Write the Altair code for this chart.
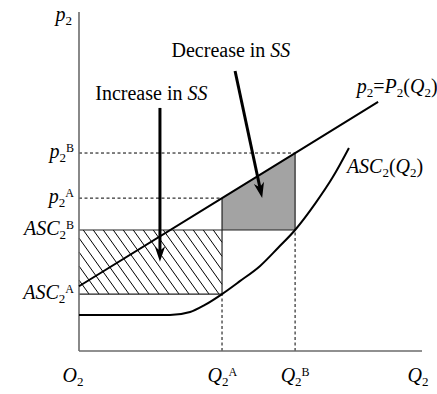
import math

import altair as alt
import pandas as pd

# ---- economic quantities (plot units) ----
Q2A, Q2B = 4.17, 6.30
p2A, p2B = 4.51, 5.84
ASC2A, ASC2B = 1.68, 3.57
Q_MAX, P_MAX = 10.0, 10.0

# inverse demand p2 = P2(Q2)
price_q = [0.0, Q2A, Q2B, 8.72]
price_p = [1.91, p2A, p2B, 7.35]

# average social cost curve ASC2(Q2)
asc_q = [0.0, 2.65, 3.24, 3.67, Q2A, 4.69, 5.28, 5.80, Q2B, 6.88, 7.40, 7.87]
asc_c = [1.06, 1.06, 1.15, 1.36, ASC2A, 2.06, 2.51, 3.04, ASC2B, 4.34, 5.13, 5.99]

# annotation arrows: start and tip
arrow_x0 = [2.36, 4.55]
arrow_y0 = [7.17, 8.26]
arrow_x1 = [2.36, 5.34]
arrow_y1 = [2.63, 4.51]

note_words = ["Increase in ", "Decrease in "]
note_x = [2.11, 4.43]
note_y = [7.40, 8.67]

price_label_xy = (8.10, 7.61)
asc_label_xy = (7.81, 5.25)

# ---- layout ----
W, H = 343, 339
PAD = {"left": 79, "top": 12, "right": 15, "bottom": 43}
PX, PY = W / Q_MAX, H / P_MAX
FONT = "Liberation Serif"

BASE, SUB, SUP = 20, 13, 12
SUB_DROP, SUP_RISE = 4, 6

ROMAN = {" ": 250, "a": 444, "c": 444, "D": 722, "e": 444, "i": 278, "I": 333,
         "n": 500, "r": 333, "s": 389, "2": 500, "=": 564, "(": 333, ")": 333,
         "A": 722, "B": 667}
ITALIC = {"p": 500, "P": 611, "Q": 722, "A": 611, "S": 500, "C": 667, "O": 722}


def run_width(text, italic, size):
    table = ITALIC if italic else ROMAN
    return sum(table.get(ch, 500) for ch in text) / 1000 * size


def rich(runs, x, y, anchor="start", dx=0.0, dy=0.0):
    """Lay out a label made of italic/roman/sub/sup runs, one row per run."""
    pieces, cursor = [], 0.0
    for text, role in runs:
        italic = role == "it"
        size = {"it": BASE, "rm": BASE, "sub": SUB, "sup": SUP}[role]
        shift = {"sub": SUB_DROP, "sup": -SUP_RISE}.get(role, 0)
        w = run_width(text, italic and size == BASE, size)
        pieces.append((text, italic, size, cursor, shift, w))
        cursor += w
    if anchor == "middle":
        off = -cursor / 2
    elif anchor == "end":
        off = -cursor
    elif anchor == "base":
        off = -pieces[0][5]
    else:
        off = 0.0
    rows = []
    for text, italic, size, cur, shift, _ in pieces:
        rows.append({
            "text": text,
            "italic": italic,
            "size": size,
            "x": x + (dx + off + cur) / PX,
            "y": y - (dy + shift) / PY,
        })
    return rows


labels = []
labels += rich([("p", "it"), ("2", "sub")], 0.0, P_MAX, anchor="end", dx=-7, dy=9)
for runs, level in [
    ([("p", "it"), ("2", "sub"), ("B", "sup")], p2B),
    ([("p", "it"), ("2", "sub"), ("A", "sup")], p2A),
    ([("ASC", "it"), ("2", "sub"), ("B", "sup")], ASC2B),
    ([("ASC", "it"), ("2", "sub"), ("A", "sup")], ASC2A),
]:
    labels += rich(runs, 0.0, level, anchor="end", dx=-5, dy=5)
for runs, pos, shift in [
    ([("O", "it"), ("2", "sub")], 0.0, -2),
    ([("Q", "it"), ("2", "sub"), ("A", "sup")], Q2A, 0),
    ([("Q", "it"), ("2", "sub"), ("B", "sup")], Q2B, 0),
    ([("Q", "it"), ("2", "sub")], Q_MAX, 0),
]:
    labels += rich(runs, pos, 0.0, anchor="base", dx=shift, dy=31)
labels += rich([("p", "it"), ("2", "sub"), ("=", "rm"), ("P", "it"), ("2", "sub"),
                ("(", "rm"), ("Q", "it"), ("2", "sub"), (")", "rm")], *price_label_xy)
labels += rich([("ASC", "it"), ("2", "sub"), ("(", "rm"), ("Q", "it"), ("2", "sub"),
                (")", "rm")], *asc_label_xy)
for words, nx, ny in zip(note_words, note_x, note_y):
    labels += rich([(words, "rm"), ("SS", "it")], nx, ny, anchor="middle")
label_df = pd.DataFrame(labels)

# ---- hatch lines for the lower rectangle (0..Q2A, ASC2A..ASC2B) ----
K, STEP = 1.4, 10.0
x_lo, x_hi = 0.0, Q2A * PX
y_lo, y_hi = ASC2A * PY, ASC2B * PY
hatch = []
c = y_lo
while c < y_hi + K * x_hi + K * STEP:
    xa = max(x_lo, (c - y_hi) / K)
    xb = min(x_hi, (c - y_lo) / K)
    if xb > xa:
        hatch.append({"x": xa / PX, "y": (c - K * xa) / PY,
                      "x2": xb / PX, "y2": (c - K * xb) / PY})
    c += K * STEP
hatch_df = pd.DataFrame(hatch)

# ---- guide segments ----
solid_df = pd.DataFrame([
    {"x": 0.0, "y": ASC2B, "x2": Q2B, "y2": ASC2B},
    {"x": 0.0, "y": ASC2A, "x2": Q2A, "y2": ASC2A},
    {"x": Q2A, "y": ASC2A, "x2": Q2A, "y2": p2A},
    {"x": Q2B, "y": ASC2B, "x2": Q2B, "y2": p2B},
])
dashed_df = pd.DataFrame([
    {"x": 0.0, "y": p2B, "x2": Q2B, "y2": p2B},
    {"x": 0.0, "y": p2A, "x2": Q2A, "y2": p2A},
    {"x": Q2A, "y": 0.0, "x2": Q2A, "y2": ASC2A},
    {"x": Q2B, "y": 0.0, "x2": Q2B, "y2": ASC2B},
])
axes_df = pd.DataFrame([
    {"x": 0.0, "y": 0.0, "x2": Q_MAX, "y2": 0.0},
    {"x": 0.0, "y": 0.0, "x2": 0.0, "y2": P_MAX},
])

# ---- arrows ----
HEAD_R = 8.0
shafts, heads = [], []
for x0, y0, x1, y1 in zip(arrow_x0, arrow_y0, arrow_x1, arrow_y1):
    sx, sy = (x1 - x0) * PX, -(y1 - y0) * PY
    n = math.hypot(sx, sy)
    ux, uy = sx / n, sy / n
    cx, cy = x1 - HEAD_R * ux / PX, y1 + HEAD_R * uy / PY
    shafts.append({"x": x0, "y": y0, "x2": cx, "y2": cy})
    heads.append({"x": cx, "y": cy,
                  "angle": math.degrees(math.atan2(-ux, uy)) % 360})
shaft_df = pd.DataFrame(shafts)
head_df = pd.DataFrame(heads)

gray_df = pd.DataFrame({"q": [Q2A, Q2B], "top": [p2A, p2B], "bottom": [ASC2B, ASC2B]})
price_df = pd.DataFrame({"q": price_q, "p": price_p})
asc_df = pd.DataFrame({"q": asc_q, "c": asc_c})

xs = alt.Scale(domain=[0, Q_MAX], nice=False, zero=False)
ys = alt.Scale(domain=[0, P_MAX], nice=False, zero=False)


def X(f):
    return alt.X(f, type="quantitative", scale=xs, axis=None)


def Y(f):
    return alt.Y(f, type="quantitative", scale=ys, axis=None)


def segs(df, color, width, dash=None):
    kw = dict(color=color, strokeWidth=width)
    if dash:
        kw["strokeDash"] = dash
    return alt.Chart(df).mark_rule(**kw).encode(
        x=X("x"), y=Y("y"), x2="x2:Q", y2="y2:Q")


gray = alt.Chart(gray_df).mark_area(color="#a3a3a3", opacity=1).encode(
    x=X("q"), y=Y("top"), y2="bottom:Q")
hatch_layer = segs(hatch_df, "black", 1)
solid_layer = segs(solid_df, "#222", 1.2)
dashed_layer = segs(dashed_df, "black", 1, [3, 2.5])
axes_layer = segs(axes_df, "#6b6b6b", 1.6)
asc_line = alt.Chart(asc_df).mark_line(color="black", strokeWidth=2,
                                       interpolate="monotone").encode(
    x=X("q"), y=Y("c"))
price_line = alt.Chart(price_df).mark_line(color="black", strokeWidth=2).encode(
    x=X("q"), y=Y("p"))
shaft_layer = segs(shaft_df, "black", 3)
head_layer = alt.Chart(head_df).mark_point(
    shape="M0,1 L-0.65,-0.95 L0,-0.4 L0.65,-0.95 Z",
    filled=True, color="black", opacity=1, size=4 * HEAD_R ** 2,
).encode(x=X("x"), y=Y("y"), angle=alt.Angle("angle:Q", scale=None))


def text_layer(italic):
    return alt.Chart(label_df).transform_filter(
        alt.datum.italic == italic
    ).mark_text(
        align="left", baseline="alphabetic", font=FONT, color="black",
        fontStyle="italic" if italic else "normal",
    ).encode(x=X("x"), y=Y("y"), text="text:N",
             size=alt.Size("size:Q", scale=None))


chart = alt.layer(
    gray, hatch_layer, solid_layer, dashed_layer, axes_layer,
    asc_line, price_line, shaft_layer, head_layer,
    text_layer(False), text_layer(True),
).properties(
    width=W, height=H, padding=PAD,
    autosize=alt.AutoSizeParams(type="none"),
    background="white",
).configure_view(stroke=None)

chart.save("out.html", embed_options={"renderer": "svg", "actions": False})
